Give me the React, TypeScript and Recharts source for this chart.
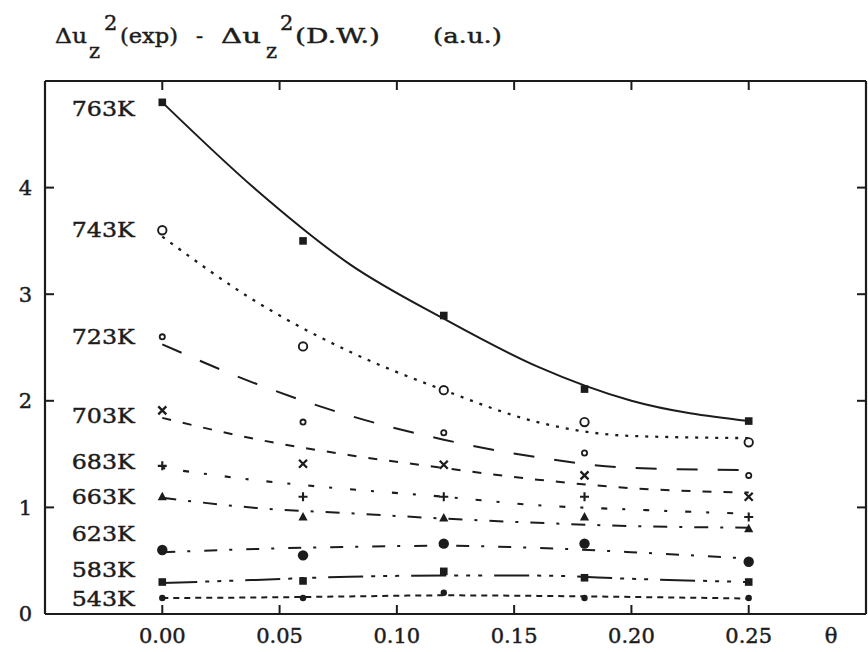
import React from 'react';
import { ComposedChart, Line, Scatter, XAxis, YAxis } from 'recharts';

// measured coverage values (theta)
const thetaMeasured = [0, 0.06, 0.12, 0.18, 0.25];
// theta positions at which the fitted curves were read
const thetaFit = [0, 0.04, 0.08, 0.12, 0.16, 0.2, 0.25];

const xTicks = [0, 0.05, 0.1, 0.15, 0.2, 0.25];
const yTicks = [0, 1, 2, 3, 4];

const temperatures = ['763K', '743K', '723K', '703K', '683K', '663K', '623K', '583K', '543K'];
const labelY = [4.74, 3.61, 2.6, 1.86, 1.43, 1.1, 0.76, 0.42, 0.15];
const labelTheta = -0.0386;

// measured points
const meas763 = [4.8, 3.5, 2.8, 2.11, 1.81];
const meas743 = [3.6, 2.51, 2.1, 1.8, 1.61];
const meas723 = [2.6, 1.8, 1.7, 1.51, 1.3];
const meas703 = [1.91, 1.41, 1.4, 1.3, 1.1];
const meas683 = [1.39, 1.1, 1.1, 1.1, 0.91];
const meas663 = [1.1, 0.91, 0.9, 0.91, 0.8];
const meas623 = [0.6, 0.55, 0.66, 0.66, 0.49];
const meas583 = [0.3, 0.31, 0.4, 0.34, 0.3];
const meas543 = [0.15, 0.15, 0.2, 0.15, 0.15];

// fitted curves
const fit763 = [4.8, 3.98, 3.28, 2.77, 2.32, 2.0, 1.81];
const fit743 = [3.54, 2.93, 2.46, 2.1, 1.8, 1.67, 1.65];
const fit723 = [2.53, 2.16, 1.86, 1.635, 1.47, 1.37, 1.35];
const fit703 = [1.84, 1.64, 1.49, 1.37, 1.26, 1.18, 1.14];
const fit683 = [1.37, 1.255, 1.17, 1.1, 1.02, 0.98, 0.94];
const fit663 = [1.09, 0.995, 0.945, 0.895, 0.855, 0.825, 0.81];
const fit623 = [0.58, 0.61, 0.63, 0.64, 0.62, 0.58, 0.52];
const fit583 = [0.29, 0.32, 0.35, 0.36, 0.36, 0.33, 0.3];
const fit543 = [0.15, 0.155, 0.165, 0.175, 0.17, 0.16, 0.145];

const INK = '#1c1c1c';
const FONT = '"DejaVu Serif", "Liberation Serif", serif';
const TEXT_STROKE = 0.45;

type MarkerKind = 'square' | 'circleOpen' | 'ring' | 'cross' | 'plus' | 'triangle' | 'circleBig' | 'dot';

const seriesDefs: { name: string; meas: number[]; fit: number[]; dash?: string; width: number; marker: MarkerKind }[] = [
  { name: '763K', meas: meas763, fit: fit763, dash: undefined, width: 2, marker: 'square' },
  { name: '743K', meas: meas743, fit: fit743, dash: '3 7', width: 2.3, marker: 'circleOpen' },
  { name: '723K', meas: meas723, fit: fit723, dash: '21 20', width: 2, marker: 'ring' },
  { name: '703K', meas: meas703, fit: fit703, dash: '9 12', width: 2, marker: 'cross' },
  { name: '683K', meas: meas683, fit: fit683, dash: '3 18 6 15', width: 2.1, marker: 'plus' },
  { name: '663K', meas: meas663, fit: fit663, dash: '14 12 3 12', width: 2, marker: 'triangle' },
  { name: '623K', meas: meas623, fit: fit623, dash: '13 12 3 14', width: 2, marker: 'circleBig' },
  { name: '583K', meas: meas583, fit: fit583, dash: '35 8 4 8 4 8 4 12', width: 2, marker: 'square' },
  { name: '543K', meas: meas543, fit: fit543, dash: '6 5', width: 2, marker: 'dot' },
];

function Marker(kind: MarkerKind) {
  return (props: any) => {
    const { cx, cy } = props;
    if (cx == null || cy == null) return <g />;
    switch (kind) {
      case 'square':
        return <rect x={cx - 3.8} y={cy - 3.8} width={7.6} height={7.6} fill={INK} />;
      case 'circleOpen':
        return <circle cx={cx} cy={cy} r={4.2} fill="#fff" stroke={INK} strokeWidth={1.9} />;
      case 'ring':
        return <circle cx={cx} cy={cy} r={2.6} fill="#fff" stroke={INK} strokeWidth={1.8} />;
      case 'cross':
        return (
          <path d={`M${cx - 4} ${cy - 4}L${cx + 4} ${cy + 4}M${cx - 4} ${cy + 4}L${cx + 4} ${cy - 4}`} stroke={INK} strokeWidth={2.3} />
        );
      case 'plus':
        return <path d={`M${cx - 4.5} ${cy}L${cx + 4.5} ${cy}M${cx} ${cy - 4.5}L${cx} ${cy + 4.5}`} stroke={INK} strokeWidth={2.1} />;
      case 'triangle':
        return <path d={`M${cx} ${cy - 5}L${cx + 4.6} ${cy + 3.5}L${cx - 4.6} ${cy + 3.5}Z`} fill={INK} />;
      case 'circleBig':
        return <circle cx={cx} cy={cy} r={5.2} fill={INK} />;
      case 'dot':
      default:
        return <circle cx={cx} cy={cy} r={3.2} fill={INK} />;
    }
  };
}

const labelData = temperatures.map((t, i) => ({ x: labelTheta, y: labelY[i], name: t }));

const LabelShape = (props: any) => {
  const { cx, cy, payload } = props;
  return (
    <text
      x={cx}
      y={cy}
      dy="0.36em"
      textAnchor="start"
      fontFamily={FONT}
      fontSize={21}
      fill={INK}
      stroke={INK}
      strokeWidth={TEXT_STROKE}
      textLength={63}
      lengthAdjust="spacingAndGlyphs"
    >
      {payload.name}
    </text>
  );
};

const titleStyle = { fontFamily: FONT, fontSize: 21, fill: INK, stroke: INK, strokeWidth: TEXT_STROKE } as const;
const tickStyle = { fontFamily: FONT, fontSize: 21, fill: INK, stroke: INK, strokeWidth: TEXT_STROKE };

export default function App() {
  return (
    <div style={{ position: 'absolute', left: 0, top: 0, width: 868, height: 652, background: '#fff' }}>
      <ComposedChart width={868} height={652} margin={{ top: 80, right: 1, bottom: 0, left: 0 }}>
        <XAxis
          xAxisId="b"
          dataKey="x"
          type="number"
          domain={[-0.05, 0.3]}
          ticks={xTicks}
          interval={0}
          allowDataOverflow
          height={38}
          tickSize={-9}
          tickMargin={23}
          tickFormatter={(v: number) => v.toFixed(2)}
          tick={tickStyle}
          axisLine={{ stroke: INK, strokeWidth: 2.2 }}
          tickLine={{ stroke: INK, strokeWidth: 2 }}
        />
        <XAxis
          xAxisId="t"
          orientation="top"
          dataKey="x"
          type="number"
          domain={[-0.05, 0.3]}
          ticks={xTicks}
          interval={0}
          allowDataOverflow
          height={1}
          tickSize={-9}
          tickFormatter={() => ''}
          axisLine={{ stroke: INK, strokeWidth: 2.2 }}
          tickLine={{ stroke: INK, strokeWidth: 2 }}
        />
        <YAxis
          yAxisId="l"
          type="number"
          domain={[0, 5]}
          ticks={yTicks}
          interval={0}
          allowDataOverflow
          width={45}
          tickSize={-9}
          tickMargin={22}
          tick={tickStyle}
          axisLine={{ stroke: INK, strokeWidth: 2.2 }}
          tickLine={{ stroke: INK, strokeWidth: 2 }}
        />
        <YAxis
          yAxisId="r"
          orientation="right"
          type="number"
          domain={[0, 5]}
          ticks={yTicks}
          interval={0}
          allowDataOverflow
          width={1}
          tickSize={-9}
          tickFormatter={() => ''}
          axisLine={{ stroke: INK, strokeWidth: 2.2 }}
          tickLine={{ stroke: INK, strokeWidth: 2 }}
        />
        {seriesDefs.map((s) => (
          <Line
            key={'fit' + s.name}
            xAxisId="b"
            yAxisId="l"
            data={thetaFit.map((x, i) => ({ x, y: s.fit[i] }))}
            dataKey="y"
            type="monotone"
            stroke={INK}
            strokeWidth={s.width}
            strokeDasharray={s.dash}
            dot={false}
            activeDot={false}
            isAnimationActive={false}
          />
        ))}
        {seriesDefs.map((s) => (
          <Scatter
            key={'m' + s.name}
            xAxisId="b"
            yAxisId="l"
            data={thetaMeasured.map((x, i) => ({ x, y: s.meas[i] }))}
            dataKey="y"
            shape={Marker(s.marker)}
            isAnimationActive={false}
          />
        ))}
        <Scatter xAxisId="b" yAxisId="l" data={labelData} dataKey="y" shape={LabelShape} isAnimationActive={false} />
      </ComposedChart>
      <svg width={868} height={80} style={{ position: 'absolute', left: 0, top: 0, pointerEvents: 'none' }}>
        <text x={55} y={43} {...titleStyle} textLength={32} lengthAdjust="spacingAndGlyphs">Δu</text>
        <text x={89} y={58} {...titleStyle}>z</text>
        <text x={104} y={30} {...titleStyle}>2</text>
        <text x={120} y={43} {...titleStyle} textLength={58} lengthAdjust="spacingAndGlyphs">(exp)</text>
        <text x={196} y={43} {...titleStyle}>-</text>
        <text x={221} y={43} {...titleStyle} textLength={40} lengthAdjust="spacingAndGlyphs">Δu</text>
        <text x={266} y={58} {...titleStyle}>z</text>
        <text x={280} y={30} {...titleStyle}>2</text>
        <text x={295} y={43} {...titleStyle} textLength={85} lengthAdjust="spacingAndGlyphs">(D.W.)</text>
        <text x={433} y={43} {...titleStyle} textLength={69} lengthAdjust="spacingAndGlyphs">(a.u.)</text>
      </svg>
      <svg width={868} height={652} style={{ position: 'absolute', left: 0, top: 0, pointerEvents: 'none' }}>
        <text x={831} y={643} textAnchor="middle" fontFamily={FONT} fontSize={21} fill={INK} stroke={INK} strokeWidth={TEXT_STROKE}>θ</text>
      </svg>
    </div>
  );
}
